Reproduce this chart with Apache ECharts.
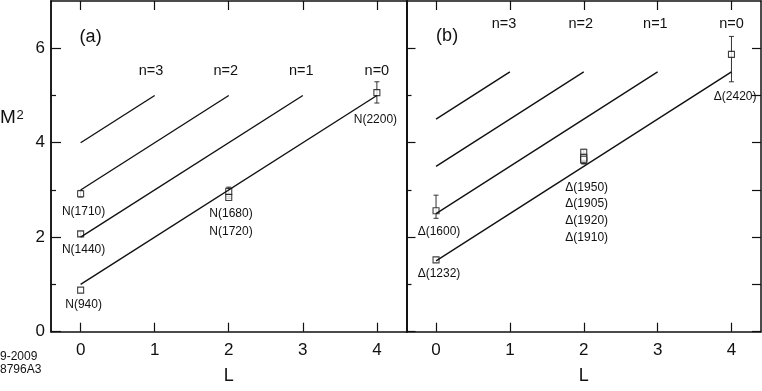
<!DOCTYPE html>
<html>
<head>
<meta charset="utf-8">
<script src="https://cdn.jsdelivr.net/npm/echarts@6/dist/echarts.min.js"></script>
<style>
  html, body { margin: 0; padding: 0; background: #fff; }
  #chart { width: 762px; height: 391px; }
</style>
</head>
<body>
<div id="chart"></div>
<script>
// tick labels
var xTicks = [0, 1, 2, 3, 4];
var yMajor = [0, 2, 4, 6];
var yMinor = [1, 3, 5];

// Regge trajectories (n = 0..3): start at L=0, end at L=lEnd
var trajNames = ['n=0', 'n=1', 'n=2', 'n=3'];
var trajLEnd = [4, 3, 2, 1];
var nucleonTrajStart = [1.0, 2.0, 3.0, 4.0];
var nucleonTrajEnd = [5.0, 5.0, 5.0, 5.0];
var deltaTrajStart = [1.5, 2.5, 3.5, 4.5];
var deltaTrajEnd = [5.5, 5.5, 5.5, 5.5];

// nucleon states (panel a)
var nucleonNames = ['N(940)', 'N(1440)', 'N(1710)', 'N(1680)', 'N(1720)', 'N(2200)'];
var nucleonL = [0, 0, 0, 2, 2, 4];
var nucleonM2 = [0.88, 2.07, 2.92, 2.84, 2.97, 5.06];
var nucleonLo = [0.88, 2.02, 2.85, 2.82, 2.90, 4.84];
var nucleonHi = [0.88, 2.12, 2.99, 2.86, 3.06, 5.29];

// delta states (panel b)
var deltaNames = ['\u0394(1232)', '\u0394(1600)', '\u0394(1950)', '\u0394(1905)', '\u0394(1920)', '\u0394(1910)', '\u0394(2420)'];
var deltaL = [0, 0, 2, 2, 2, 2, 4];
var deltaM2 = [1.52, 2.56, 3.80, 3.63, 3.69, 3.65, 5.87];
var deltaLo = [1.52, 2.40, 3.72, 3.55, 3.60, 3.56, 5.29];
var deltaHi = [1.52, 2.89, 3.86, 3.72, 3.78, 3.74, 6.25];

// annotation anchors in data units [L, M2]
var nucleonLabelL = [0.04, 0.04, 0.04, 2.03, 2.03, 3.98];
var nucleonLabelM2 = [0.58, 1.73, 2.55, 2.49, 2.11, 4.48];
var deltaLabelL = [0.04, 0.04, 2.04, 2.04, 2.04, 2.04, 4.05];
var deltaLabelM2 = [1.22, 2.11, 3.04, 2.70, 2.35, 2.00, 4.98];
var nucleonTrajLabelL = [4.0, 2.98, 1.96, 0.95];
var nucleonTrajLabelM2 = [5.51, 5.51, 5.51, 5.51];
var deltaTrajLabelL = [4.0, 2.97, 1.96, 0.92];
var deltaTrajLabelM2 = [6.51, 6.51, 6.51, 6.51];

var FONT = '"Liberation Sans", Arial, Helvetica, sans-serif';

var chart = echarts.init(document.getElementById('chart'));

var axisLine = { show: true, onZero: false, lineStyle: { color: '#111', width: 1.5 } };

function xAxes(gridIndex) {
  return [{
    type: 'value', gridIndex: gridIndex, position: 'bottom', min: -0.4, max: 4.4,
    axisLine: axisLine,
    axisTick: { inside: true, length: 9, customValues: xTicks, lineStyle: { color: '#111', width: 1.2 } },
    axisLabel: { customValues: xTicks, margin: 10, fontSize: 17, color: '#111', fontFamily: FONT },
    splitLine: { show: false },
    name: 'L', nameLocation: 'middle', nameGap: 35,
    nameTextStyle: { fontSize: 18, color: '#111', fontFamily: FONT }
  }, {
    type: 'value', gridIndex: gridIndex, position: 'top', min: -0.4, max: 4.4,
    axisLine: axisLine,
    axisTick: { inside: true, length: 9, customValues: xTicks, lineStyle: { color: '#111', width: 1.2 } },
    axisLabel: { show: false },
    splitLine: { show: false }
  }];
}

function yAxis(gridIndex, pos, ticks, len, labels) {
  return {
    type: 'value', gridIndex: gridIndex, position: pos, min: 0, max: 7,
    axisLine: axisLine,
    axisTick: { show: ticks.length > 0, inside: true, length: len, customValues: ticks, lineStyle: { color: '#111', width: 1.2 } },
    axisLabel: labels ? { customValues: yMajor, margin: 6, fontSize: 17, color: '#111', fontFamily: FONT } : { show: false },
    splitLine: { show: false }
  };
}

function trajSeries(xi, yi, start, end) {
  return trajNames.map(function (n, i) {
    return {
      type: 'line', xAxisIndex: xi, yAxisIndex: yi, symbol: 'none', silent: true,
      lineStyle: { color: '#111', width: 1.4 },
      data: [[0, start[i]], [trajLEnd[i], end[i]]]
    };
  });
}

function errSeries(xi, yi, L, lo, hi) {
  return {
    type: 'custom', xAxisIndex: xi, yAxisIndex: yi, silent: true,
    data: L.map(function (l, i) { return [l, lo[i], hi[i]]; }),
    renderItem: function (params, api) {
      var a = api.coord([api.value(0), api.value(1)]);
      var b = api.coord([api.value(0), api.value(2)]);
      if (Math.abs(a[1] - b[1]) < 1) return null;
      var w = 2.5, st = { stroke: '#333', lineWidth: 1 };
      return {
        type: 'group', children: [
          { type: 'line', shape: { x1: a[0], y1: a[1], x2: b[0], y2: b[1] }, style: st },
          { type: 'line', shape: { x1: a[0] - w, y1: a[1], x2: a[0] + w, y2: a[1] }, style: st },
          { type: 'line', shape: { x1: b[0] - w, y1: b[1], x2: b[0] + w, y2: b[1] }, style: st }
        ]
      };
    }
  };
}

function pointSeries(xi, yi, L, M2) {
  return {
    type: 'scatter', xAxisIndex: xi, yAxisIndex: yi, symbol: 'rect', symbolSize: 6, silent: true,
    itemStyle: { color: '#fff', borderColor: '#111', borderWidth: 1.1 },
    data: L.map(function (l, i) { return [l, M2[i]]; })
  };
}

function textSeries(xi, yi, L, M2, texts, size) {
  return {
    type: 'custom', xAxisIndex: xi, yAxisIndex: yi, silent: true,
    data: L.map(function (l, i) { return [l, M2[i]]; }),
    renderItem: function (params, api) {
      var p = api.coord([api.value(0), api.value(1)]);
      return {
        type: 'text', x: p[0], y: p[1],
        style: { text: texts[params.dataIndex], textAlign: 'center', textVerticalAlign: 'middle',
                 fontSize: size, fontFamily: FONT, fill: '#111' }
      };
    }
  };
}

var option = {
  animation: false,
  backgroundColor: '#fff',
  grid: [
    { left: 51, top: 1, width: 355.5, height: 330.7 },
    { left: 406.5, top: 1, width: 354.5, height: 330.7 }
  ],
  xAxis: xAxes(0).concat(xAxes(1)),
  yAxis: [
    yAxis(0, 'left', yMajor, 10, true),
    yAxis(0, 'left', yMinor, 5, false),
    yAxis(0, 'right', [], 0, false),
    yAxis(1, 'left', yMajor, 9, false),
    yAxis(1, 'left', yMinor, 5, false),
    yAxis(1, 'right', yMajor.concat(yMinor), 9, false)
  ],
  graphic: [
    // M^2 axis title: big M with raised 2
    { type: 'text', x: 0, y: 127, style: { text: 'M', fontSize: 19, fontFamily: FONT, fill: '#111', textVerticalAlign: 'bottom' } },
    { type: 'text', x: 16.5, y: 109, style: { text: '2', fontSize: 13, fontFamily: FONT, fill: '#111', textVerticalAlign: 'top' } },
    { type: 'text', x: 0, y: 357, style: { text: '9-2009', fontSize: 12, fontFamily: FONT, fill: '#111', textVerticalAlign: 'middle' } },
    { type: 'text', x: 0, y: 370, style: { text: '8796A3', fontSize: 12, fontFamily: FONT, fill: '#111', textVerticalAlign: 'middle' } }
  ],
  series: [].concat(
    trajSeries(0, 0, nucleonTrajStart, nucleonTrajEnd),
    trajSeries(2, 3, deltaTrajStart, deltaTrajEnd),
    [
      errSeries(0, 0, nucleonL, nucleonLo, nucleonHi),
      errSeries(2, 3, deltaL, deltaLo, deltaHi),
      pointSeries(0, 0, nucleonL, nucleonM2),
      pointSeries(2, 3, deltaL, deltaM2),
      textSeries(0, 0, nucleonLabelL, nucleonLabelM2, nucleonNames, 12),
      textSeries(2, 3, deltaLabelL, deltaLabelM2, deltaNames, 12),
      textSeries(0, 0, nucleonTrajLabelL, nucleonTrajLabelM2, trajNames, 14.5),
      textSeries(2, 3, deltaTrajLabelL, deltaTrajLabelM2, trajNames, 14.5),
      textSeries(0, 0, [0.135], [6.23], ['(a)'], 18),
      textSeries(2, 3, [0.15], [6.25], ['(b)'], 18)
    ]
  )
};

chart.setOption(option);
</script>
</body>
</html>
